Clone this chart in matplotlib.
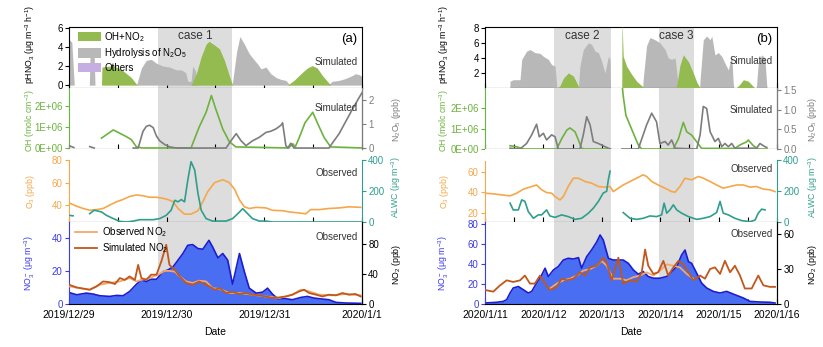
import numpy as np
import matplotlib
matplotlib.use("Agg")
import matplotlib.pyplot as plt
from matplotlib.ticker import FixedLocator, MultipleLocator, FuncFormatter

plt.rcParams['font.family'] = ['Liberation Sans', 'DejaVu Sans']
plt.rcParams['mathtext.fontset'] = 'custom'
plt.rcParams['mathtext.rm'] = 'Liberation Sans'
plt.rcParams['mathtext.it'] = 'Liberation Sans:italic'
plt.rcParams['mathtext.default'] = 'regular'
plt.rcParams['axes.linewidth'] = 0.8

nan = np.nan

# ---------------- panel (a): hours since 2019/12/29 00:00 ----------------
a_dates = ['2019/12/29', '2019/12/30', '2019/12/31', '2020/1/1']
a_cases = [(22.0, 40.0)]
a_case_names = ['case 1']

a_green_t = [8.0, 8.1, 11, 13.3, 15.3, 16.6, 17, 30, 31.3, 32.5, 33.7, 34.4, 35.8, 37, 38.2, 39.4, 40.2,
             53.7, 55.3, 57, 58.6, 59.8, 61, 62.3, 63.5, 64.3]
a_green_v = [0, 1.9, 2.05, 1.5, 0.8, 0.1, 0, 0, 1.2, 3.0, 4.3, 4.6, 4.2, 3.8, 2.6, 1.0, 0,
             0, 0.5, 1.2, 1.8, 2.05, 1.8, 1.0, 0.4, 0]
a_grey_t = [0, 0.7, 1.3, 5.0, 5.2, 6.2, 6.4, 16.6, 17.8, 19, 20.2, 21.5, 23.1, 24.7, 26.4, 27.6, 28.7, 29.2,
            30, 30.4, 31.1, 31.7, 40.0, 40.2, 41.2, 42, 43.1, 44.3, 45.6, 46.4, 47.2, 48.4, 49.6, 50.9, 52.1,
            53.3, 54.1, 54.5, 63.5, 63.9, 64.7, 66.4, 68, 69.6, 70.4, 71.3, 72]
a_grey_v = [4.8, 4.5, 0, 0, 3.2, 3.0, 0, 0, 1.8, 2.6, 2.7, 2.3, 2.0, 1.9, 1.6, 1.6, 1.3, 0.4,
            0.4, 2.0, 1.5, 0, 0, 0.3, 3.5, 5.1, 4.3, 3.3, 2.6, 2.2, 1.7, 1.9, 1.2, 0.8, 0.6,
            0.5, 0.1, 0, 0, 0.1, 0.4, 0.5, 0.7, 1.0, 1.2, 1.1, 0.9]
a_others_t = [0, 72]
a_others_v = [0, 0]

a_oh_t = [8, 10.9, 12.5, 14, 15.3, 16.6, 18, 30, 32, 33.7, 35, 36, 37.8, 39.4, 41, 54, 55, 55.6, 56.6, 58,
          59.9, 61.5, 62.7, 64.3, 72]
a_oh_v = [0.47, 0.86, 0.7, 0.55, 0.4, 0.05, 0, 0, 1.0, 1.7, 2.5, 1.9, 0.9, 0.3, 0.05, 0, 0.2, 0.05, 0.5, 1.2,
          1.7, 1.0, 0.5, 0.05, 0]  # x 1E+06 molc cm-3
a_n2o5_t = [0, 1.2, 1.5, 5.1, 6.2, 7, 15.8, 17, 18.2, 19, 19.8, 20.7, 21.5, 22.3, 23.5, 24.7, 26.4, 38.6, 39.8,
            41.1, 42.3, 43.5, 45.1, 46.8, 48.4, 49.6, 50.9, 52.1, 52.5, 53.3, 53.8, 54.5, 55.3, 63.9, 64.7, 66.4,
            68, 69.6, 71.3, 72]
a_n2o5_v = [0.1, 0.02, nan, 0.06, 0, nan, 0, 0, 0.7, 0.9, 0.95, 0.85, 0.5, 0.3, 0.15, 0.05, 0, 0, 0.3,
            0.6, 0.3, 0.1, 0.3, 0.45, 0.65, 0.7, 0.8, 0.95, 1.05, 0.1, 0, 0.2, 0, 0, 0.2, 0.6,
            1.1, 1.6, 2.1, 2.3]

a_o3_t = [0, 1.9, 3.5, 5.1, 6.8, 8.4, 10, 11.7, 13.3, 14.9, 16.6, 18.2, 19.8, 21.5, 23.1, 24.3, 25.6, 26.8,
          28.4, 30, 31.7, 32.9, 34.1, 35.8, 37.8, 39.4, 40.7, 41.9, 43.1, 44.3, 46, 48.4, 50, 52.5, 54.1, 56.6,
          58.2, 59.4, 61.5, 63.9, 66.4, 68.8, 71.7]
a_o3_v = [42, 39, 37, 35.4, 36, 37, 40, 43, 45, 47.7, 49, 48.3, 47, 47, 46, 45, 43, 37,
          32, 32, 35, 43, 52, 60, 62.5, 60, 54, 44.6, 38.5, 37, 38, 37.5, 35.4, 35, 34, 33,
          32.3, 36, 36, 37, 37.5, 38.5, 38]
a_alwc_t = [0, 1, 1.5, 5.1, 6.2, 8, 9.2, 10.9, 12.5, 14.1, 15.8, 17.4, 19, 20.7, 22.3, 23.9, 25.1, 26, 26.8,
            27.6, 28.4, 29.2, 30, 30.9, 31.7, 32.5, 33.7, 35.3, 38.6, 40.2, 41.5, 42.7, 43.9, 45.1, 46.8, 48.4,
            50, 72]
a_alwc_v = [43, 40, nan, 54, 76, 65, 43, 22, 4, 0, 6, 15, 15, 15, 22, 43, 76, 140, 130,
            145, 130, 270, 389, 335, 184, 76, 22, 6, 6, 22, 54, 86, 54, 22, 6, 6,
            0, 0]

a_no3_t = [0, 1.9, 4.3, 6, 7.6, 10, 11.7, 13.3, 14.9, 16.6, 17.8, 19, 20.2, 21.5, 23.1, 24.3, 25.6, 26.8, 28,
           29.2, 30.4, 31.7, 32.9, 34.4, 35.3, 36.6, 37.8, 39, 40.2, 41.9, 43.1, 44.3, 46, 47.6, 48.8, 50, 51.3,
           53.3, 54.9, 57, 58.6, 60.2, 62.3, 63.9, 65.6, 68, 71.7]
a_no3_v = [7, 5.6, 6.6, 6, 5, 4.6, 5.2, 5, 7.6, 12, 14.6, 13.6, 15, 15, 19.6, 20.6, 22.6, 26.6, 30.6,
           35.6, 36, 33.6, 33.2, 38.6, 34.6, 28, 30.6, 26.6, 12, 30.6, 19.6, 9.6, 6.6, 7.2, 9.6, 6, 3.2,
           3.2, 2.6, 4, 4.6, 3.6, 3, 2.6, 1, 0.6, 0.4]
a_no2_obs_t = [0, 2.7, 5.1, 7.6, 10, 12.5, 14.9, 16.6, 17.8, 19.8, 21.9, 23.5, 24.7, 26, 27.2, 28.8, 30.4, 32,
               33.7, 35.3, 37, 39.4, 41.9, 45.1, 48.4, 51.7, 54.9, 57, 59, 61.5, 64.7, 68, 71.7]
a_no2_obs_v = [23.5, 21, 19, 25.7, 28, 30, 34.5, 30, 32, 34.5, 39, 44, 44, 43, 36.7, 30, 28, 31,
               30, 21, 20, 14.6, 14.6, 12.4, 10, 8, 12.4, 19, 16.8, 12.4, 11.5, 13.3, 11.5]
a_no2_sim_t = [0, 1.9, 5.1, 6.8, 8.4, 10, 11.3, 12.5, 13.7, 14.9, 16.2, 17, 17.8, 19, 20.2, 21.5, 22.7, 23.9,
               24.7, 26, 27.2, 28.8, 30.4, 32, 33.3, 34.5, 35.8, 37, 38.6, 40.2, 41.9, 43.5, 45.1, 46.8, 48.4,
               50, 51.7, 53.3, 54.9, 56.6, 57.8, 59, 60.7, 62.3, 63.9, 65.6, 67.2, 68.8, 70.4, 71.7]
a_no2_sim_v = [25.7, 22, 19, 23.5, 30, 29, 26.5, 34.5, 32, 36.7, 32, 52, 34.5, 32, 39, 39, 56.6, 78.8,
               52, 45.6, 36.7, 27.9, 25.7, 30, 26.5, 23.5, 19, 21, 14.6, 16, 13.3, 14.6, 12.4, 11.5, 10,
               8, 8.8, 10, 12.4, 16.8, 19, 14.6, 12.4, 10, 12.4, 11.5, 14.6, 12.4, 13.3, 10]

# ---------------- panel (b): hours since 2020/1/11 00:00 ----------------
b_dates = ['2020/1/11', '2020/1/12', '2020/1/13', '2020/1/14', '2020/1/15', '2020/1/16']
b_cases = [(28.3, 51.9), (71.5, 85.9)]
b_case_names = ['case 2', 'case 3']

b_green_t = [29.5, 30.8, 32.2, 34.2, 36.3, 37.7, 38.4, 38.8, 56.2, 56.3, 56.8, 58.2, 60.3, 62.3, 64.4, 65.8,
             78.6, 78.8, 80.1, 81.5, 83.6, 85.6, 87, 88.4, 103, 104.5, 106.2, 108.2, 110.3, 111]
b_green_v = [0, 0.3, 1.3, 2.0, 1.6, 0.7, 0.2, 0, 0, 9, 4.2, 2.9, 1.8, 0.9, 0.3, 0,
             0, 0.3, 3.0, 4.4, 3.5, 2.0, 0.8, 0, 0, 0.4, 1.1, 0.9, 0.2, 0]
b_grey_t = [10.2, 10.3, 11.6, 14.4, 15.1, 17.1, 18.5, 20.5, 22.6, 24, 26, 27.4, 28.8, 29.5, 30, 38.4, 39,
            40.4, 42.5, 43.8, 45.2, 46.6, 47.9, 49.3, 50.7, 51.4, 51.6, 64.8, 65, 66.4, 67.8, 69.9, 71.9,
            74, 75.3, 76.7, 78.1, 79.5, 79.8, 88.2, 88.4, 89.7, 91.1, 92.5, 93.2, 94.5, 95.9, 97.3, 98.6,
            100, 101.4, 102, 102.3, 111.4, 111.6, 112.3, 113.7, 115, 115.8, 116]
b_grey_v = [0, 0.9, 1.1, 1.1, 3.8, 4.9, 5.1, 4.7, 4.6, 4.2, 3.8, 3.1, 2.9, 0.2, 0, 0, 2.9,
            5.1, 6.0, 5.8, 4.9, 4.7, 3.6, 2.0, 4.2, 3.8, 0, 0, 1.1, 5.6, 6.7, 6.4, 6.0,
            5.1, 4.0, 3.8, 4.0, 0.2, 0, 0, 1.1, 6.4, 6.9, 6.4, 6.9, 4.4, 4.7, 4.2, 3.3,
            2.4, 4.4, 0.7, 0, 0, 0.4, 3.3, 4.4, 4.0, 0.3, 0]
b_others_t = [0, 120]
b_others_v = [0, 0]

b_oh_t = [10.3, 13, 15.8, 29.5, 31.5, 33.6, 34.9, 37, 38.4, 39.7, 41, 51.6, 54, 56.3, 56.8, 57.9, 59.6, 61,
          63, 64.4, 77.4, 79.5, 81.5, 82.9, 84.9, 87, 89, 102.7, 104.8, 107.5, 108.2, 110.3, 112.3, 116]
b_oh_v = [0.16, 0.11, 0, 0, 0.5, 0.92, 1.03, 0.84, 0.44, 0.03, 0, 0, nan, 3.2, 2.6, 1.65, 1.16, 0.76,
          0.2, 0, 0, 0.5, 1.3, 0.84, 0.68, 0.35, 0.03, 0.03, 0.2, 0.35, 0.44, 0.16, 0, 0]
b_n2o5_t = [10.3, 14.4, 17.1, 19.2, 21.2, 22.3, 24, 25.3, 27.4, 28.8, 30.1, 39, 40.4, 41.8, 43.2, 44.5, 46.6,
            48.6, 50.7, 51.4, 54, 56.3, 63, 65, 66.4, 68.5, 70.5, 71.9, 74, 75.3, 76.7, 78.1, 87, 88.4, 89.7,
            91.1, 92.5, 94.5, 95.9, 97.3, 98.6, 100, 101.4, 102.7, 111.6, 113, 115, 115.8]
b_n2o5_v = [0.02, 0, 0.14, 0.36, 0.63, 0.31, 0.4, 0.23, 0.36, 0.31, 0, 0, 0.36, 0.82, 0.61, 0.19, 0.14,
            0.08, 0.02, 0, nan, 0, 0, 0.36, 0.61, 0.91, 0.69, 0.14, 0.19, 0.1, 0.23, 0.02, 0, 0.36, 1.08,
            1.03, 0.44, 0.19, 0.27, 0.06, 0.14, 0.06, 0.14, 0.02, 0.02, 0.14, 0.06, 0.04]

b_o3_t = [0, 3.4, 6.8, 10.3, 13, 15.8, 19.2, 21.2, 23.3, 25.3, 27.4, 28.8, 30.8, 32.2, 34.2, 36.3, 38.4, 41.1,
          43.8, 46.6, 49.3, 51.4, 52.7, 54.8, 56.8, 59.6, 62.3, 65, 66.4, 68.5, 71.2, 74, 76.7, 78.1, 80.1,
          82.2, 84.9, 87.7, 89.7, 92.5, 95.2, 97.9, 100.7, 103.4, 106.2, 108.9, 111.6, 114.4, 117.1, 119.2]
b_o3_v = [39, 38.4, 37.4, 36.4, 39, 43, 45.5, 47, 42.3, 39.7, 39, 35.8, 32.5, 35.8, 45.5, 53.6, 53.6, 50.4,
          48.8, 45.5, 44.9, 45.5, 40.6, 43.9, 47, 50.4, 53.6, 56.9, 55.3, 50.4, 47, 43.9, 40.6, 40, 45.5,
          53.6, 52, 55.3, 53.6, 50.4, 47, 43.9, 45.5, 47, 47, 44.9, 45.5, 43, 42.3, 40.6]
b_alwc_t = [10.3, 11.6, 13.7, 15.1, 16.4, 17.8, 19.9, 21.9, 23.3, 25.3, 26.7, 28.8, 31.5, 34.2, 37, 39.7, 42.5,
            44.5, 46.6, 48.6, 50, 50.7, 51.4, 54, 56.8, 59.6, 62.3, 65, 67.8, 70.5, 72.6, 73.6, 74.7, 76, 77.4,
            78.8, 80.8, 83.6, 87, 89.7, 92.5, 95.2, 96.6, 97.9, 100, 102.7, 105.5, 108.9, 111, 112.3, 113.7,
            115.1]
b_alwc_v = [122, 78, 78, 143, 133, 67, 24, 46, 46, 78, 39, 30, 46, 35, 17, 24, 57,
            89, 133, 187, 198, 274, 328, nan, 61, 24, 17, 24, 39, 35, 46, 122, 57, 78, 111,
            78, 57, 35, 17, 24, 35, 61, 133, 57, 46, 24, 9, 2, 13, 57, 83,
            78]

b_no3_t = [0, 4.8, 7.5, 8.9, 10.3, 11.6, 13.7, 15.8, 17.8, 19.2, 21.2, 23.3, 24.7, 26, 28.1, 30.1, 32.2, 34.2,
           36.3, 38.4, 39.7, 41.8, 43.8, 45.9, 47.3, 48.6, 50.7, 52.7, 54.8, 56.8, 58.9, 61, 63, 65, 67.1, 69.2,
           71.9, 74.7, 76.7, 78.8, 80.8, 82.2, 83.6, 84.9, 87, 89, 91.1, 93.8, 96.6, 99.3, 102.7, 106.2, 108.9,
           113, 117.1, 119.2]
b_no3_v = [1, 1.7, 2.6, 4.3, 11, 16, 17.5, 14.2, 11, 12.6, 21, 29, 35.8, 27.5, 34, 37.4, 44, 45.7,
           45, 46.4, 35.8, 47.4, 54, 62, 69, 64, 45.7, 44, 44, 44, 40.7, 34, 29.8, 32.5, 27.5, 25.8,
           25.8, 27.5, 32.5, 37.4, 49, 54, 42.4, 40.7, 30.8, 21, 16, 12.6, 11, 12.6, 9.3, 6, 2.6,
           2, 1.7, 1]
b_no2_obs_t = [26.7, 29.5, 32.2, 34.9, 37.7, 40.4, 43.2, 45.9, 47.9, 50, 52.7, 55.5, 58.2, 61, 63.7, 66.4,
               69.2, 71.9, 74.7, 77.4, 80.1, 82.9, 85.6]
b_no2_obs_v = [13.3, 17.5, 20.3, 21.7, 24.4, 28.6, 30, 32.8, 37, 32.8, 21.7, 21.7, 20.3, 23, 24.4, 27.2,
               24.4, 28.6, 34, 32.8, 31.4, 25.8, 21.7]
b_no2_sim_t = [0, 3.4, 6.2, 8.9, 11.6, 14.4, 16.4, 18.5, 20.5, 22.6, 24.7, 26.7, 29.5, 31.5, 33.6, 36.3, 39,
               41.1, 43.2, 45.9, 48.6, 50, 52.1, 54.8, 56.8, 59.6, 62.3, 64.4, 65.8, 67.1, 69.2, 71.2, 73.3,
               75.3, 77.4, 79.5, 81.5, 83.6, 85.6, 88.4, 90.4, 92.5, 94.5, 96.6, 98.6, 100.7, 102.7, 104.8,
               106.8, 109.6, 112.3, 114.4, 117.1, 119.2]
b_no2_sim_v = [12, 10.6, 16, 20.3, 18.9, 20.3, 24.4, 17.5, 17.5, 24.4, 17.5, 12, 14.7, 21.7, 20.3, 21.7, 27.2,
               24.4, 31.4, 32.8, 39.7, 35.6, 20.3, 39.7, 17.5, 20.3, 18.9, 27.2, 46.7, 32.8, 25.8, 27.2, 37,
               24.4, 31.4, 37, 34, 27.2, 20.3, 24.4, 21.7, 30, 31.4, 25.8, 37, 27.2, 32.8, 24.4,
               13.3, 13.3, 24.4, 16, 14.7, 14.7]

# ---------------- colours ----------------
SHADE = '#dddddd'
GREEN = '#93bb50'
GREY = '#b8b8b8'
PURPLE = '#c4aee2'
OHC = '#6db23e'
N2O5C = '#7d7d7d'
O3C = '#f5a84a'
ALWCC = '#2f9e8c'
NO3F = '#4a6ef2'
NO3E = '#1d1dd0'
NO3T = '#3a3ae8'
OBSC = '#f2a86a'
SIMC = '#c0571c'
LABFS = 6.3

fig = plt.figure(figsize=(8.23, 3.47), dpi=100)
rows = [(0.7464, 0.1758), (0.5706, 0.1758), (0.3602, 0.2104), (0.1239, 0.2363)]


def xstyle(ax, xmax, dates, show):
    ax.set_xlim(0, xmax)
    ax.xaxis.set_major_locator(FixedLocator([24 * i for i in range(len(dates))]))
    ax.xaxis.set_minor_locator(MultipleLocator(12))
    ax.tick_params(axis='x', which='both', direction='in', length=3.5, width=0.8,
                   labelsize=7.5, pad=4, labelbottom=show)
    if show:
        ax.set_xticklabels(dates)
    ax.tick_params(axis='y', direction='out', length=3, width=0.8, labelsize=7, pad=1.5)


def ystyle(ax, side, color):
    ax.tick_params(axis='y', colors=color)
    ax.spines[side].set_color(color)


def twin_style(tw):
    tw.tick_params(axis='y', direction='out', length=3, width=0.8, labelsize=7, pad=1.5)
    for s in ['top', 'left', 'bottom']:
        tw.spines[s].set_visible(False)


def panel(x0, w, xmax, dates, cases, names, letter, d):
    axs = [fig.add_axes([x0, b, w, h]) for b, h in rows]
    for i, ax in enumerate(axs):
        xstyle(ax, xmax, dates, i == 3)
        for s, e in cases:
            ax.axvspan(s, e, color=SHADE, lw=0, zorder=0)
        if i > 0:
            ax.spines['top'].set_visible(False)

    # row 1: production rates
    ax = axs[0]
    g1 = ax.fill_between(d['green_t'], d['green_v'], color=GREEN, lw=0, zorder=3)
    g2 = ax.fill_between(d['grey_t'], d['grey_v'], color=GREY, lw=0, zorder=2)
    g3 = ax.fill_between(d['others_t'], d['others_v'], color=PURPLE, lw=0, zorder=2)
    ax.set_ylim(*d['r1_lim'])
    ax.set_yticks(d['r1_ticks'])
    ax.set_ylabel('pHNO$_3$ (μg m$^{-3}$ h$^{-1}$)', fontsize=LABFS)
    ax.yaxis.set_label_coords(d['lab_x'], 0.72)
    for (s, e), n in zip(cases, names):
        ax.text((s + e) / 2, 0.86, n, transform=ax.get_xaxis_transform(), ha='center', va='center',
                fontsize=8.5, color='#333333')
    ax.text(0.985, 0.80, letter, transform=ax.transAxes, ha='right', va='center', fontsize=9.5)
    ax.text(0.985, d['r1_txt'], 'Simulated', transform=ax.transAxes, ha='right', va='center',
            fontsize=7, color='#333333', zorder=5)
    if d['legend']:
        ax.legend([g1, g2, g3], ['OH+NO$_2$', 'Hydrolysis of N$_2$O$_5$', 'Others'], loc='upper left',
                  bbox_to_anchor=(0.015, 1.03), frameon=False, fontsize=7, handlelength=2.3,
                  handleheight=1.1, handletextpad=0.4, labelspacing=0.25, borderaxespad=0.1)

    # row 2: OH and N2O5
    ax = axs[1]
    ax.plot(d['oh_t'], d['oh_v'], color=OHC, lw=1.2, zorder=3)
    ax.set_ylim(*d['oh_lim'])
    ax.set_yticks([0, 1, 2])
    ax.yaxis.set_major_formatter(FuncFormatter(lambda v, p: '0E+00' if v == 0 else '%dE+06' % v))
    ystyle(ax, 'left', OHC)
    ax.set_ylabel('OH (molc cm$^{-3}$)', fontsize=LABFS, color=OHC)
    ax.yaxis.set_label_coords(d['lab_x'], 0.46)
    tw = ax.twinx()
    tw.plot(d['n2o5_t'], d['n2o5_v'], color=N2O5C, lw=1.2, zorder=3)
    tw.set_ylim(*d['n2o5_lim'])
    tw.set_yticks(d['n2o5_ticks'])
    tw.yaxis.set_major_formatter(FuncFormatter(d['n2o5_fmt']))
    twin_style(tw)
    ystyle(tw, 'right', N2O5C)
    tw.set_ylabel('N$_2$O$_5$ (ppb)', fontsize=LABFS, color=N2O5C)
    tw.yaxis.set_label_coords(d['rlab_x'], 0.48)
    tw.text(0.985, d['r2_txt'], 'Simulated', transform=tw.transAxes, ha='right', va='center',
            fontsize=7, color='#333333')

    # row 3: O3 and ALWC
    ax = axs[2]
    ax.plot(d['o3_t'], d['o3_v'], color=O3C, lw=1.2, zorder=3)
    ax.set_ylim(*d['o3_lim'])
    ax.set_yticks(d['o3_ticks'])
    ax.spines['left'].set_bounds(d['o3_lim'][0], d['o3_top'])
    ax.spines['right'].set_visible(False)
    ystyle(ax, 'left', O3C)
    ax.set_ylabel('O$_3$ (ppb)', fontsize=LABFS, color=O3C)
    ax.yaxis.set_label_coords(d['lab_x'], 0.42)
    tw = ax.twinx()
    tw.plot(d['alwc_t'], d['alwc_v'], color=ALWCC, lw=1.2, zorder=3)
    tw.set_ylim(0, 471)
    tw.set_yticks([0, 200, 400])
    tw.spines['right'].set_bounds(0, 400)
    twin_style(tw)
    ystyle(tw, 'right', ALWCC)
    tw.set_ylabel('ALWC (μg m$^{-3}$)', fontsize=LABFS, color=ALWCC)
    tw.yaxis.set_label_coords(d['rlab_x'], 0.48)
    tw.text(0.985, d['r3_txt'], 'Observed', transform=tw.transAxes, ha='right', va='center',
            fontsize=7, color='#333333')

    # row 4: NO3- and NO2
    ax = axs[3]
    ax.fill_between(d['no3_t'], d['no3_v'], color=NO3F, lw=0, zorder=2)
    ax.plot(d['no3_t'], d['no3_v'], color=NO3E, lw=1.2, zorder=2)
    ax.set_ylim(*d['no3_lim'])
    ax.set_yticks(d['no3_ticks'])
    ystyle(ax, 'left', NO3T)
    ax.set_ylabel('NO$_3^-$ (μg m$^{-3}$)', fontsize=LABFS, color=NO3T)
    ax.yaxis.set_label_coords(d['lab_x'], 0.5)
    ax.set_xlabel('Date', fontsize=7.5, labelpad=5)
    tw = ax.twinx()
    l1, = tw.plot(d['obs_t'], d['obs_v'], color=OBSC, lw=1.3, zorder=3)
    l2, = tw.plot(d['sim_t'], d['sim_v'], color=SIMC, lw=1.3, zorder=3)
    tw.set_ylim(*d['no2_lim'])
    tw.set_yticks(d['no2_ticks'])
    twin_style(tw)
    tw.set_ylabel('NO$_2$ (ppb)', fontsize=LABFS)
    tw.yaxis.set_label_coords(d['rlab_x'], 0.48)
    tw.text(0.985, d['r4_txt'], 'Observed', transform=tw.transAxes, ha='right', va='center',
            fontsize=7, color='#333333')
    if d['legend']:
        tw.legend([l1, l2], ['Observed NO$_2$', 'Simulated NO$_2$'], loc='upper left',
                  bbox_to_anchor=(0.0, 1.03), frameon=False, fontsize=7, handlelength=2.3,
                  handletextpad=0.5, labelspacing=0.2, borderaxespad=0.2)


panel(0.0838, 0.356, 72, a_dates, a_cases, a_case_names, '(a)', dict(
    green_t=a_green_t, green_v=a_green_v, grey_t=a_grey_t, grey_v=a_grey_v,
    others_t=a_others_t, others_v=a_others_v, r1_lim=(-0.3, 6.1), r1_ticks=[0, 2, 4, 6],
    oh_t=a_oh_t, oh_v=a_oh_v, oh_lim=(-0.05, 2.86),
    n2o5_t=a_n2o5_t, n2o5_v=a_n2o5_v, n2o5_lim=(-0.04, 2.5), n2o5_ticks=[0, 1, 2],
    n2o5_fmt=lambda v, p: '%d' % v,
    o3_t=a_o3_t, o3_v=a_o3_v, o3_lim=(25, 89.8), o3_top=80, o3_ticks=[40, 60, 80],
    alwc_t=a_alwc_t, alwc_v=a_alwc_v,
    no3_t=a_no3_t, no3_v=a_no3_v, no3_lim=(0, 49.7), no3_ticks=[0, 20, 40],
    obs_t=a_no2_obs_t, obs_v=a_no2_obs_v, sim_t=a_no2_sim_t, sim_v=a_no2_sim_v,
    no2_lim=(0, 109), no2_ticks=[0, 40, 80],
    lab_x=-0.11, rlab_x=1.095, r1_txt=0.43, r2_txt=0.67, r3_txt=0.67, r4_txt=0.82, legend=True))

panel(0.5893, 0.3548, 120, b_dates, b_cases, b_case_names, '(b)', dict(
    green_t=b_green_t, green_v=b_green_v, grey_t=b_grey_t, grey_v=b_grey_v,
    others_t=b_others_t, others_v=b_others_v, r1_lim=(0, 8.1), r1_ticks=[2, 4, 6, 8],
    oh_t=b_oh_t, oh_v=b_oh_v, oh_lim=(0, 2.98),
    n2o5_t=b_n2o5_t, n2o5_v=b_n2o5_v, n2o5_lim=(0, 1.55), n2o5_ticks=[0, 0.5, 1.0, 1.5],
    n2o5_fmt=lambda v, p: '%.1f' % v,
    o3_t=b_o3_t, o3_v=b_o3_v, o3_lim=(11, 82), o3_top=70, o3_ticks=[20, 40, 60],
    alwc_t=b_alwc_t, alwc_v=b_alwc_v,
    no3_t=b_no3_t, no3_v=b_no3_v, no3_lim=(0, 82), no3_ticks=[0, 20, 40, 60, 80],
    obs_t=b_no2_obs_t, obs_v=b_no2_obs_v, sim_t=b_no2_sim_t, sim_v=b_no2_sim_v,
    no2_lim=(0, 70.3), no2_ticks=[0, 30, 60],
    lab_x=-0.115, rlab_x=1.1, r1_txt=0.45, r2_txt=0.64, r3_txt=0.73, r4_txt=0.85, legend=False))

fig.savefig('out.png', dpi=100)
